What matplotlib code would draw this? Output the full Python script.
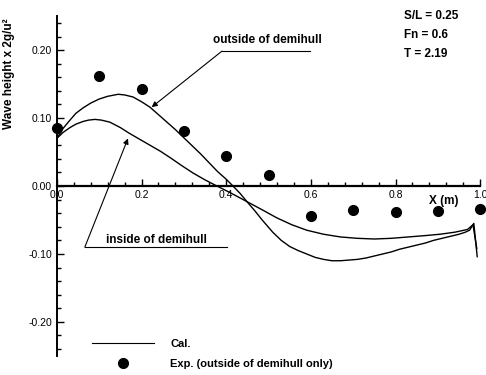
import matplotlib
matplotlib.use("Agg")
import matplotlib.pyplot as plt
from matplotlib.ticker import MultipleLocator, FormatStrFormatter
from matplotlib.lines import Line2D

plt.rcParams['font.family'] = ['Liberation Sans', 'DejaVu Sans']
plt.rcParams['axes.unicode_minus'] = False

# experiment (outside of demihull only)
exp_x = [0.0, 0.1, 0.2, 0.3, 0.4, 0.5, 0.6, 0.7, 0.8, 0.9, 1.0]
exp_y = [0.085, 0.162, 0.143, 0.081, 0.044, 0.016, -0.044, -0.035, -0.038, -0.037, -0.034]

# calculation, outside of demihull
out_x = [0.0, 0.015, 0.031, 0.045, 0.062, 0.08, 0.10, 0.12, 0.145, 0.16, 0.18, 0.20,
         0.22, 0.24, 0.26, 0.28, 0.30, 0.32, 0.34, 0.36, 0.38, 0.40, 0.416, 0.433,
         0.449, 0.467, 0.485, 0.51, 0.53, 0.55, 0.57, 0.59, 0.61, 0.63, 0.65, 0.67,
         0.69, 0.71, 0.73, 0.75, 0.77, 0.79, 0.81, 0.83, 0.85, 0.87, 0.89, 0.91,
         0.93, 0.95, 0.965, 0.975, 0.985, 0.993]
out_y = [0.070, 0.085, 0.097, 0.107, 0.115, 0.122, 0.128, 0.132, 0.135, 0.134, 0.131, 0.124,
         0.116, 0.105, 0.094, 0.083, 0.071, 0.059, 0.047, 0.034, 0.021, 0.010, 0.0, -0.011,
         -0.023, -0.036, -0.050, -0.068, -0.080, -0.089, -0.095, -0.100, -0.105, -0.108, -0.110, -0.110,
         -0.109, -0.108, -0.106, -0.103, -0.100, -0.097, -0.093, -0.090, -0.087, -0.084, -0.080, -0.077,
         -0.074, -0.071, -0.068, -0.065, -0.055, -0.104]

# calculation, inside of demihull
in_x = [0.0, 0.015, 0.031, 0.045, 0.062, 0.075, 0.09, 0.105, 0.125, 0.15, 0.17, 0.195,
        0.22, 0.245, 0.267, 0.295, 0.322, 0.35, 0.378, 0.41, 0.449, 0.485, 0.52, 0.555,
        0.59, 0.63, 0.67, 0.71, 0.75, 0.79, 0.83, 0.87, 0.905, 0.94, 0.97, 0.983, 0.992]
in_y = [0.070, 0.079, 0.086, 0.091, 0.095, 0.097, 0.098, 0.097, 0.094, 0.086, 0.078, 0.069,
        0.060, 0.051, 0.042, 0.030, 0.019, 0.009, 0.0, -0.010, -0.023, -0.035, -0.047, -0.057,
        -0.065, -0.071, -0.075, -0.077, -0.078, -0.077, -0.075, -0.073, -0.071, -0.068, -0.064, -0.057, -0.092]

fig = plt.figure(figsize=(4.86, 3.75), dpi=100)
ax = fig.add_axes([0.117, 0.051, 0.871, 0.906])

ax.plot(out_x, out_y, color='k', lw=1.0)
ax.plot(in_x, in_y, color='k', lw=1.0)
ax.plot(exp_x, exp_y, 'o', color='k', ms=7, clip_on=False, zorder=5)

ax.set_xlim(0, 1.0)
ax.set_ylim(-0.25, 0.25)

ax.spines['top'].set_visible(False)
ax.spines['right'].set_visible(False)
ax.spines['bottom'].set_position(('data', 0))
ax.spines['bottom'].set_linewidth(1.6)
ax.spines['left'].set_linewidth(1.4)

ax.xaxis.set_major_locator(MultipleLocator(0.2))
ax.xaxis.set_minor_locator(MultipleLocator(0.04))
ax.yaxis.set_major_locator(MultipleLocator(0.1))
ax.yaxis.set_minor_locator(MultipleLocator(0.02))
ax.xaxis.set_major_formatter(FormatStrFormatter('%.1f'))
ax.yaxis.set_major_formatter(FormatStrFormatter('%.2f'))
ax.tick_params(which='both', direction='in', labelsize=7.5, width=1.0)
ax.tick_params(which='major', length=5)
ax.tick_params(which='minor', length=3)
ax.tick_params(axis='x', pad=3)

ax.set_ylabel('Wave height x 2g/u\u00b2', fontsize=8.5, fontweight='bold')
ax.yaxis.set_label_coords(-0.099, 0.832)

ax.text(0.913, -0.022, 'X (m)', fontsize=8.5, fontweight='bold', ha='center', va='center')

# parameters
params = ['S/L = 0.25', 'Fn = 0.6', 'T = 2.19']
for i, s in enumerate(params):
    ax.text(0.82, 0.250 - i * 0.028, s, fontsize=8.5, fontweight='bold', va='center')

# annotations
ax.text(0.497, 0.215, 'outside of demihull', fontsize=8.5, fontweight='bold', ha='center', va='center')
ax.plot([0.39, 0.598], [0.1985, 0.1985], color='k', lw=0.8)
ax.annotate('', xy=(0.224, 0.116), xytext=(0.39, 0.1985),
            arrowprops=dict(arrowstyle='-|>', lw=0.8, color='k', mutation_scale=8,
                            shrinkA=0, shrinkB=0))

ax.text(0.235, -0.079, 'inside of demihull', fontsize=8.5, fontweight='bold', ha='center', va='center')
ax.plot([0.066, 0.402], [-0.09, -0.09], color='k', lw=0.8)
ax.annotate('', xy=(0.168, 0.070), xytext=(0.066, -0.09),
            arrowprops=dict(arrowstyle='-|>', lw=0.8, color='k', mutation_scale=8,
                            shrinkA=0, shrinkB=0))

handles = [Line2D([], [], color='k', lw=0.8),
           Line2D([], [], color='k', marker='o', ls='none', ms=7)]
labels = ['Cal.', 'Exp. (outside of demihull only)']
leg = ax.legend(handles, labels, loc='upper left', bbox_to_anchor=(0.177, 0.112),
                bbox_transform=fig.transFigure, frameon=False, borderpad=0,
                handlelength=5.6, handletextpad=1.5, labelspacing=0.95,
                prop={'size': 8, 'weight': 'bold'})

fig.savefig('out.png', dpi=100)
